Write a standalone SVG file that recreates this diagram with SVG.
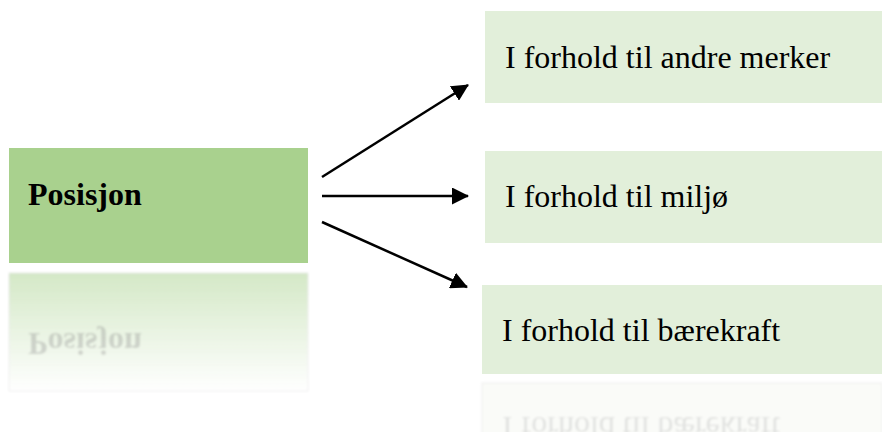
<svg xmlns="http://www.w3.org/2000/svg" width="882" height="432" viewBox="0 0 882 432">
  <style>
    .main { fill: #a9d18e; }
    .sub { fill: #e2efda; }
    .lbl { font-family: "Liberation Serif", "Times New Roman", serif; font-size: 32px; fill: #000; }
    .bold { font-weight: bold; font-size: 32px; }
    .conn { stroke: #000; stroke-width: 2.5; fill: none; marker-end: url(#head); }
    .mirror { fill: #808080; }
  </style>
  <defs>
    <marker id="head" markerUnits="userSpaceOnUse" markerWidth="17" markerHeight="17" viewBox="0 0 17 17" refX="16" refY="8.5" orient="auto">
      <path d="M0,0 L17,8.5 L0,17 z" fill="#000"/>
    </marker>
    <linearGradient id="fadeMain" x1="0" y1="0" x2="0" y2="1">
      <stop offset="0" stop-color="#a9d18e" stop-opacity="0.5"/>
      <stop offset="1" stop-color="#a9d18e" stop-opacity="0"/>
    </linearGradient>
    <filter id="soft" x="-5%" y="-20%" width="110%" height="140%">
      <feGaussianBlur stdDeviation="0.8"/>
    </filter>
  </defs>

  <!-- main node with its mirrored reflection -->
  <g id="posisjon">
    <rect class="main" x="9" y="148" width="299" height="115"/>
    <text class="lbl bold" x="28" y="205">Posisjon</text>
    <g filter="url(#soft)">
      <rect x="9" y="273" width="299" height="118" fill="url(#fadeMain)" stroke="#e6e6e6" stroke-opacity="0.6" stroke-width="1"/>
      <text class="lbl bold mirror" x="28" y="205" opacity="0.3" transform="translate(0,538) scale(1,-1)">Posisjon</text>
    </g>
  </g>

  <g id="andre-merker">
    <rect class="sub" x="485" y="11" width="397" height="92"/>
    <text class="lbl" x="505" y="68">I forhold til andre merker</text>
  </g>

  <g id="miljo">
    <rect class="sub" x="485" y="151" width="397" height="92"/>
    <text class="lbl" x="505" y="207">I forhold til miljø</text>
  </g>

  <g id="baerekraft">
    <rect class="sub" x="482" y="285" width="400" height="89"/>
    <text class="lbl" x="502" y="341">I forhold til bærekraft</text>
    <g filter="url(#soft)">
      <rect x="482" y="383" width="400" height="60" fill="#f6f8f4" fill-opacity="0.6" stroke="#eeeeee" stroke-width="1"/>
      <text class="lbl mirror" x="502" y="341" opacity="0.2" transform="translate(0,758) scale(1,-1)">I forhold til bærekraft</text>
    </g>
  </g>

  <!-- connectors -->
  <g id="connectors">
    <line class="conn" x1="322" y1="177" x2="468" y2="85"/>
    <line class="conn" x1="322" y1="196" x2="468" y2="196"/>
    <line class="conn" x1="322" y1="222" x2="467" y2="287"/>
  </g>
</svg>
